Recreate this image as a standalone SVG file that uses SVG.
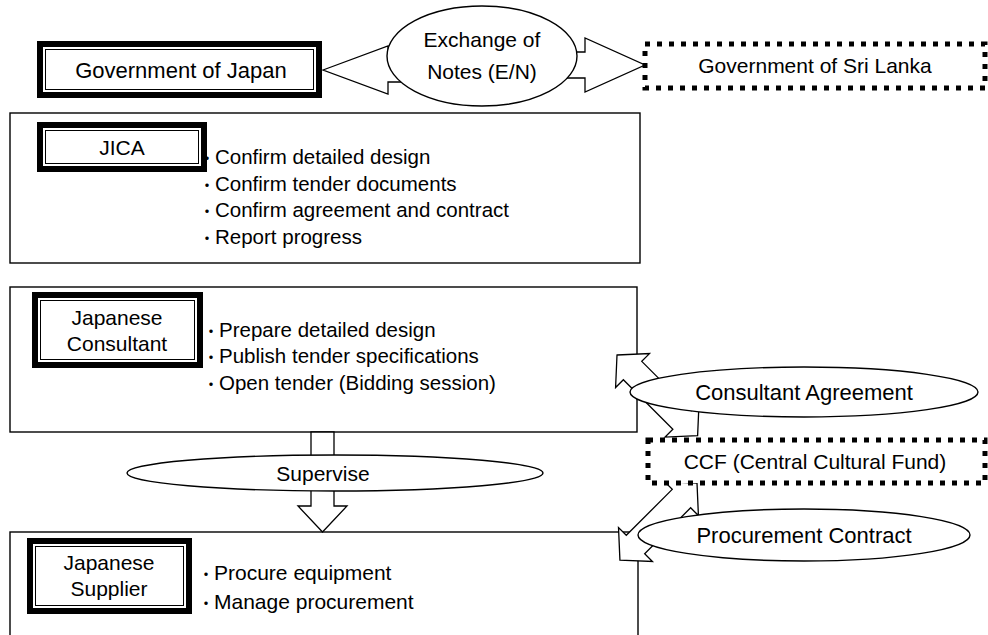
<svg xmlns="http://www.w3.org/2000/svg" width="988" height="635" viewBox="0 0 988 635">
<style>
text{font-family:"Liberation Sans","Noto Sans CJK JP",sans-serif;font-size:21px;fill:#000}
.c{text-anchor:middle}
.b{font-size:20.5px}
.dt{font-size:16px}
.big{font-size:22px}
.box{fill:#fff;stroke:#000;stroke-width:1.4}
.thick{fill:#fff;stroke:#000;stroke-width:6}
.thin{fill:none;stroke:#000;stroke-width:1}
.dot{fill:#fff;stroke:#000;stroke-width:5;stroke-dasharray:5 7}
.arr{fill:#fff;stroke:#000;stroke-width:1.3;stroke-linejoin:miter}
.ell{fill:#fff;stroke:#000;stroke-width:1.4}
</style>

<g id="jica-area">
<rect class="box" x="10" y="113" width="630" height="150"/>
</g>
<g id="consultant-area">
<rect class="box" x="10" y="287" width="627" height="145"/>
</g>
<g id="supplier-area">
<rect class="box" x="10" y="532" width="628" height="110"/>
</g>

<g id="connectors">
<polygon class="arr" points="323,70 388,46 388,58 440,58 440,82 388,82 388,94"/>
<polygon class="arr" points="530,52 585,52 585,38 645,65 585,92 585,78 530,78"/>
<polygon class="arr" points="311,432 334,432 334,506 347,506 322.5,532 298,506 311,506"/>
<polygon class="arr" transform="translate(617,355) rotate(45)" points="0,0 22,-24 22,-13 92,-13 92,-24 114,0 92,24 92,13 22,13 22,24"/>
<polygon class="arr" transform="translate(697,483) rotate(135)" points="0,0 22,-24 22,-13 87,-13 87,-24 109,0 87,24 87,13 22,13 22,24"/>
</g>

<g id="gov-japan">
<rect class="thick" x="40" y="44" width="279" height="51"/>
<rect class="thin" x="45.5" y="49.5" width="268" height="40"/>
<text class="c big" x="181" y="78">Government of Japan</text>
</g>

<g id="exchange-notes">
<ellipse class="ell" cx="482" cy="56" rx="95" ry="50"/>
<text class="c" x="482" y="47">Exchange of</text>
<text class="c" x="482" y="79">Notes (E/N)</text>
</g>

<g id="gov-srilanka">
<rect class="dot" x="645" y="44" width="340" height="44"/>
<text class="c" x="815" y="73">Government of Sri Lanka</text>
</g>

<g id="jica">
<rect class="thick" x="40" y="125" width="164" height="44"/>
<rect class="thin" x="45.5" y="130.5" width="153" height="33"/>
<text class="c" x="122" y="155">JICA</text>
<text class="b" x="199" y="164"><tspan class="dt">・</tspan>Confirm detailed design</text>
<text class="b" x="199" y="191"><tspan class="dt">・</tspan>Confirm tender documents</text>
<text class="b" x="199" y="217"><tspan class="dt">・</tspan>Confirm agreement and contract</text>
<text class="b" x="199" y="244"><tspan class="dt">・</tspan>Report progress</text>
</g>

<g id="japanese-consultant">
<rect class="thick" x="35" y="295" width="165" height="70"/>
<rect class="thin" x="40.5" y="300.5" width="154" height="59"/>
<text class="c" x="117" y="325">Japanese</text>
<text class="c" x="117" y="351">Consultant</text>
<text class="b" x="203" y="337"><tspan class="dt">・</tspan>Prepare detailed design</text>
<text class="b" x="203" y="363"><tspan class="dt">・</tspan>Publish tender specifications</text>
<text class="b" x="203" y="390"><tspan class="dt">・</tspan>Open tender (Bidding session)</text>
</g>

<g id="consultant-agreement">
<ellipse class="ell" cx="804" cy="392" rx="174" ry="25"/>
<text class="c big" x="804" y="400">Consultant Agreement</text>
</g>

<g id="supervise">
<ellipse class="ell" cx="335" cy="473" rx="208" ry="18"/>
<text class="c" x="323" y="481">Supervise</text>
</g>

<g id="ccf">
<rect class="dot" x="648" y="440" width="337" height="43"/>
<text class="c" x="815" y="469">CCF (Central Cultural Fund)</text>
</g>

<g id="procurement-contract">
<ellipse class="ell" cx="804" cy="535" rx="166" ry="26"/>
<text class="c big" x="804" y="543">Procurement Contract</text>
</g>

<g id="japanese-supplier">
<rect class="thick" x="30" y="541" width="159" height="70"/>
<rect class="thin" x="35.5" y="546.5" width="148" height="59"/>
<text class="c" x="109" y="570">Japanese</text>
<text class="c" x="109" y="596">Supplier</text>
<text x="198" y="580"><tspan class="dt">・</tspan>Procure equipment</text>
<text x="198" y="609"><tspan class="dt">・</tspan>Manage procurement</text>
</g>
</svg>
